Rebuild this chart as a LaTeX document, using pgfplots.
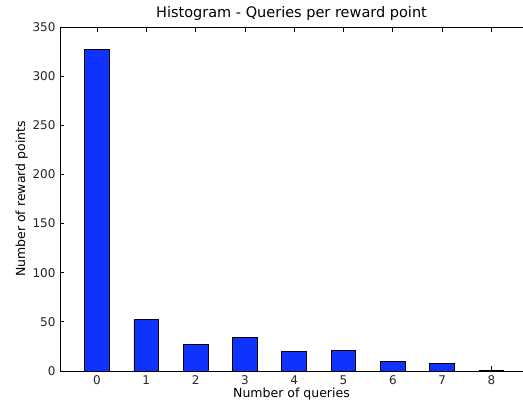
\documentclass[border=0pt]{standalone}
\usepackage{fontspec}
\setmainfont{DejaVu Sans}
\usepackage{pgfplots}
\pgfplotsset{compat=1.18}
\definecolor{barblue}{RGB}{16,50,255}
\begin{document}
\begin{tikzpicture}
\begin{axis}[
  at={(0pt,0pt)}, anchor=south west,
  scale only axis,
  width=463pt, height=344pt,
  xmin=-0.75, xmax=8.64,
  ymin=0, ymax=350,
  axis x line=box, axis y line=left,
  axis line style={-, line width=0.9pt, black},
  xtick={0,1,2,3,4,5,6,7,8},
  ytick={0,50,100,150,200,250,300,350},
  tick align=inside,
  major tick length=4.5pt,
  tick style={black, line width=0.8pt},
  minor tick num=0,
  /pgf/number format/assume math mode=true,
  ticklabel style={font=\fontsize{12}{14}\selectfont, text=black!85},
  xticklabel style={yshift=-1pt},
  yticklabel style={xshift=-1pt},
  title={Histogram - Queries per reward point},
  title style={font=\fontsize{14.5}{17}\selectfont, yshift=-3pt},
  xlabel={Number of queries},
  ylabel={Number of reward points},
  label style={font=\fontsize{12.5}{15}\selectfont},
  xlabel style={yshift=3pt},
  ylabel style={yshift=-2pt},
]
\addplot[ybar, bar width=0.5, bar shift=0pt, fill=barblue, draw=black, line width=0.8pt]
  coordinates {(0,327) (1,52) (2,27) (3,34) (4,20) (5,21) (6,10) (7,8) (8,1)};
\end{axis}
\pgfresetboundingbox
\path[use as bounding box] (-60pt,-36pt) rectangle (463pt,371pt);
\end{tikzpicture}
\end{document}
